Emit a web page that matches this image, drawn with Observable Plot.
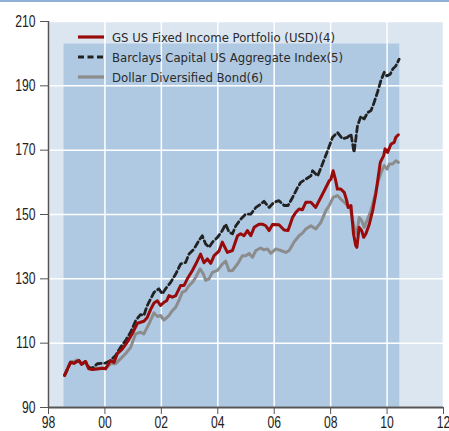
<!DOCTYPE html>
<html><head><meta charset="utf-8">
<script src="https://cdn.jsdelivr.net/npm/d3@7"></script>
<script src="https://cdn.jsdelivr.net/npm/@observablehq/plot@0.6"></script>
<style>
body{margin:0;background:#fff;}
#wrap{position:relative;width:449px;height:431px;font-family:"DejaVu Sans Condensed","DejaVu Sans",sans-serif;}
#topline{position:absolute;left:0;top:0;width:449px;height:2px;background:#8fb1d8;}
#legend{position:absolute;left:78px;top:27px;font-size:13px;color:#2a2a2a;}
.row{display:flex;align-items:center;height:20px;white-space:nowrap;}
.row svg{margin-right:8px;display:block;}
#chart svg{display:block;overflow:visible;}
</style></head><body>
<div id="wrap"><div id="topline"></div><div id="chart"></div><div id="legend"></div></div>
<script>
const seriesNames = ["GS US Fixed Income Portfolio (USD)(4)", "Barclays Capital US Aggregate Index(5)", "Dollar Diversified Bond(6)"];
const xTicks = [1998, 2000, 2002, 2004, 2006, 2008, 2010, 2012];
const xTickLabels = ["98", "00", "02", "04", "06", "08", "10", "12"];
const yTicks = [90, 110, 130, 150, 170, 190, 210];
const shadedPeriod = {x1: 1998.55, x2: 2010.45, y1: 90, y2: 203};

const gsYears = [1998.57,1998.78,1998.9,1999.08,1999.17,1999.31,1999.43,1999.55,1999.73,1999.91,2000.02,2000.2,2000.32,2000.44,2000.62,2000.79,2000.97,2001.15,2001.38,2001.5,2001.62,2001.74,2001.86,2001.97,2002.09,2002.19,2002.27,2002.39,2002.51,2002.68,2002.8,2002.92,2003.1,2003.22,2003.39,2003.51,2003.63,2003.75,2003.87,2004.04,2004.16,2004.34,2004.52,2004.7,2004.81,2004.93,2005.05,2005.17,2005.29,2005.46,2005.58,2005.7,2005.82,2005.94,2006.17,2006.35,2006.49,2006.65,2006.77,2006.88,2007.0,2007.12,2007.3,2007.47,2007.65,2007.83,2007.95,2008.01,2008.09,2008.18,2008.24,2008.36,2008.48,2008.57,2008.62,2008.72,2008.81,2008.89,2008.93,2009.01,2009.1,2009.17,2009.25,2009.37,2009.49,2009.6,2009.76,2009.88,2009.93,2010.02,2010.14,2010.25,2010.31,2010.4];
const gsValues = [100,104,103.7,104.6,103.4,104.3,102,101.8,102,102.2,102,104.6,104,106.7,108.2,110.3,113,116.2,116.8,118,120.5,122.5,123.2,121.7,122.7,123.2,124.8,124.3,124.8,127.9,127.9,130,132.6,134.6,137.7,135,136.2,134.8,137.2,138.6,141.4,138.2,138.8,143.4,144,143.4,145,143.4,146,147,147,146.5,145,146.9,146.8,145.2,145,149.1,150.7,151.7,151.5,153.8,153.8,152.2,155.3,158.4,160.5,161,163.6,160.5,157.9,157.9,156.9,154.3,152.2,152.8,144,140.3,139.8,146,145,142.9,144,147,151.2,156.4,166.2,168.3,170.4,169.3,171.9,172.4,174,174.8];

const barcYears = [1998.57,1998.78,1998.9,1999.08,1999.17,1999.31,1999.43,1999.55,1999.73,2000.02,2000.2,2000.38,2000.55,2000.73,2000.91,2001.09,2001.26,2001.38,2001.5,2001.74,2001.91,2002.03,2002.15,2002.33,2002.51,2002.68,2002.86,2002.98,2003.16,2003.33,2003.45,2003.57,2003.69,2003.81,2003.99,2004.16,2004.28,2004.4,2004.52,2004.64,2004.81,2004.99,2005.17,2005.35,2005.52,2005.64,2005.82,2005.99,2006.17,2006.35,2006.49,2006.65,2006.83,2006.94,2007.12,2007.3,2007.36,2007.54,2007.71,2007.89,2008.07,2008.24,2008.42,2008.6,2008.72,2008.83,2008.95,2009.07,2009.19,2009.31,2009.43,2009.54,2009.66,2009.78,2009.9,2009.99,2010.11,2010.2,2010.31,2010.43];
const barcValues = [100,104,104,104.6,103.4,104.3,102.5,102.2,103.6,103.8,104.6,106.2,108.7,110.8,113.4,117,118.9,118.6,121.7,125.8,126.9,125.3,126.9,128.9,131.5,134.6,135.1,137.7,139.3,141.9,143.4,140.8,139.8,141.4,142.9,145,147,144.5,144,146.5,148.5,150.1,150.1,152.2,153.2,154.1,152.2,153.8,154.3,152.8,152.8,155.3,158.4,160,161,162,163.6,162,165.7,169.8,174,175.5,173.5,174,175,169.3,177.5,180.5,179.7,181.7,182.3,184.8,188,191.6,194.2,193.1,193.6,195.2,196.2,198.3];

const ddbYears = [1998.57,1998.78,1998.9,1999.02,1999.17,1999.31,1999.43,1999.55,1999.73,1999.91,2000.02,2000.2,2000.38,2000.55,2000.73,2000.91,2001.09,2001.26,2001.38,2001.56,2001.74,2001.86,2001.97,2002.09,2002.27,2002.39,2002.51,2002.62,2002.74,2002.86,2002.98,2003.1,2003.22,2003.37,2003.49,2003.57,2003.69,2003.81,2003.99,2004.16,2004.28,2004.4,2004.52,2004.7,2004.87,2004.99,2005.11,2005.23,2005.35,2005.52,2005.64,2005.76,2005.88,2006.06,2006.23,2006.41,2006.53,2006.7,2006.88,2007.0,2007.12,2007.3,2007.47,2007.65,2007.83,2007.95,2008.09,2008.24,2008.36,2008.48,2008.6,2008.69,2008.78,2008.86,2008.93,2009.01,2009.1,2009.19,2009.31,2009.43,2009.55,2009.69,2009.81,2009.9,2010.0,2010.08,2010.2,2010.31,2010.4];
const ddbValues = [100,104.3,104.2,104.8,103.6,104.3,102.2,102,102.2,102.3,102.2,103.6,103.6,105.1,106.7,108.7,112.9,113.4,112.9,116,119.4,118.3,118.6,117.2,118.6,120.1,121.2,123.2,125.8,126.3,127.9,128.9,130.5,133.1,131.5,129.5,130,132,132.6,134.6,135.5,132.5,132.6,134.6,137.2,137.2,137.9,136.7,138.8,139.6,139,139.3,137.9,139.3,138.8,138.2,138.8,141.4,143.4,144.2,145.5,146.5,145.5,147.5,151.2,152.8,155.3,155.9,154.8,153.8,152.8,152.2,148.1,145,144,149.1,148.1,146,148.6,151.2,155.3,160.5,163.6,165.2,164.1,165.7,165.7,166.7,166.2];

const colors = ["#990b0b", "#222222", "#8c8c8c"];
const toRows = (ys, vs) => ys.map((y, i) => ({year: y, value: vs[i]}));
const gs = toRows(gsYears, gsValues);
const barc = toRows(barcYears, barcValues);
const ddb = toRows(ddbYears, ddbValues);
const fmtX = d => xTickLabels[xTicks.indexOf(d)];

const chart = Plot.plot({
  width: 449, height: 431,
  marginLeft: 48, marginRight: 6, marginTop: 21, marginBottom: 24,
  style: {fontFamily: '"Liberation Sans",Arial,sans-serif', fontSize: "16px", color: "#222", background: "transparent", overflow: "visible"},
  x: {domain: [1998, 2012], ticks: xTicks, tickFormat: fmtX},
  y: {domain: [90, 210], ticks: yTicks},
  marks: [
    Plot.frame({fill: "#dce6f1", stroke: null}),
    Plot.rect([shadedPeriod], {x1: "x1", x2: "x2", y1: "y1", y2: "y2", fill: "#afc9e3"}),
    Plot.gridX(xTicks, {stroke: "#ffffff", strokeOpacity: 1, strokeWidth: 1.5}),
    Plot.gridY(yTicks, {stroke: "#ffffff", strokeOpacity: 1, strokeWidth: 1.5}),
    Plot.line(ddb, {x: "year", y: "value", stroke: colors[2], strokeWidth: 3, strokeLinejoin: "round"}),
    Plot.line(barc, {x: "year", y: "value", stroke: colors[1], strokeWidth: 2.8, strokeDasharray: "6,3.5"}),
    Plot.line(gs, {x: "year", y: "value", stroke: colors[0], strokeWidth: 3, strokeLinejoin: "round"}),
    Plot.ruleX([1998], {stroke: "#555", strokeWidth: 1.5}),
    Plot.ruleY([90], {stroke: "#555", strokeWidth: 2}),
    Plot.axisY(yTicks, {tickSize: 8, tickPadding: 5, stroke: "#555", fontSize: 16, fill: "#222"}),
    Plot.axisX(xTicks, {tickSize: 7, tickPadding: 2, stroke: "#555", fontSize: 16, fill: "#222", tickFormat: fmtX})
  ]
});
// condense tick label glyphs (narrow font look), keeping them as real text
chart.querySelectorAll('g[aria-label$="tick label"] text').forEach(t => {
  const tr = t.getAttribute("transform") || "";
  t.setAttribute("transform", tr + " scale(0.76,1)");
});
document.getElementById("chart").appendChild(chart);

const legend = document.getElementById("legend");
const dashes = [null, "6,3.5", null];
const widths = [3.2, 2.8, 3.2];
[0, 1, 2].forEach(i => {
  const row = document.createElement("div");
  row.className = "row";
  row.innerHTML = `<svg width="26" height="6"><line x1="0" x2="26" y1="3" y2="3" stroke="${colors[i]}" stroke-width="${widths[i]}" ${dashes[i] ? `stroke-dasharray="${dashes[i]}"` : ""}/></svg><span>${seriesNames[i]}</span>`;
  legend.appendChild(row);
});
</script>
</body></html>
